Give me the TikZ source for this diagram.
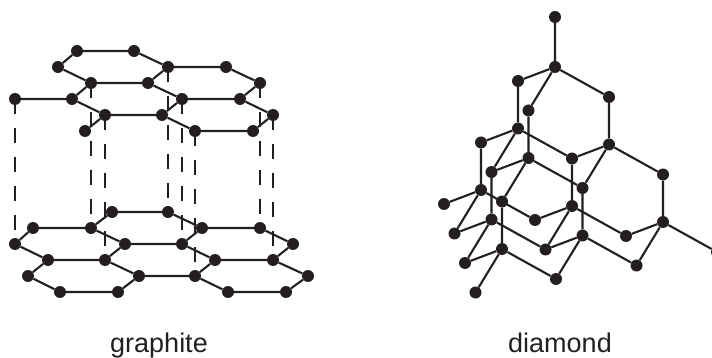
\documentclass[tikz,border=0pt]{standalone}
\usepackage{fontspec}
\setmainfont{Liberation Sans}
\usetikzlibrary{backgrounds}
\definecolor{ink}{RGB}{35,31,32}

\begin{document}
\begin{tikzpicture}[x=1pt, y=-1pt, line join=round,
  atom/.style={circle, fill=ink, inner sep=0pt, minimum size=12pt},
  bond/.style={draw=ink, line width=2.1pt},
  interlayer/.style={draw=ink, line width=1.9pt, dash pattern=on 15pt off 14pt},
  caption/.style={text=ink, font=\fontsize{27}{30}\selectfont, anchor=base}]
\useasboundingbox (0,0) rectangle (712,358);
% graphite, upper sheet
\node[atom] (U1)  at (77,51) {};
\node[atom] (U2)  at (134,51) {};
\node[atom] (U3)  at (58,67) {};
\node[atom] (U4)  at (168,67) {};
\node[atom] (U5)  at (226,67) {};
\node[atom] (U6)  at (91,83) {};
\node[atom] (U7)  at (148,83) {};
\node[atom] (U8)  at (260,83) {};
\node[atom] (U9)  at (15,99) {};
\node[atom] (U10) at (72,99) {};
\node[atom] (U11) at (182,99) {};
\node[atom] (U12) at (240,99) {};
\node[atom] (U13) at (105,115) {};
\node[atom] (U14) at (162,115) {};
\node[atom] (U15) at (273,115) {};
\node[atom] (U16) at (85,131) {};
\node[atom] (U17) at (195,131) {};
\node[atom] (U18) at (253,131) {};
% graphite, lower sheet
\node[atom] (L1)  at (112,212) {};
\node[atom] (L2)  at (168,212) {};
\node[atom] (L3)  at (33,228) {};
\node[atom] (L4)  at (91,228) {};
\node[atom] (L5)  at (202,228) {};
\node[atom] (L6)  at (260,228) {};
\node[atom] (L7)  at (15,244) {};
\node[atom] (L8)  at (125,244) {};
\node[atom] (L9)  at (182,244) {};
\node[atom] (L10) at (293,244) {};
\node[atom] (L11) at (48,260) {};
\node[atom] (L12) at (105,260) {};
\node[atom] (L13) at (215,260) {};
\node[atom] (L14) at (273,260) {};
\node[atom] (L15) at (28,276) {};
\node[atom] (L16) at (139,276) {};
\node[atom] (L17) at (195,276) {};
\node[atom] (L18) at (308,276) {};
\node[atom] (L19) at (60,292) {};
\node[atom] (L20) at (118,292) {};
\node[atom] (L21) at (228,292) {};
\node[atom] (L22) at (286,292) {};
% diamond
\node[atom] (C1)  at (555,17) {};
\node[atom] (C2)  at (555,67) {};
\node[atom] (C3)  at (518,81) {};
\node[atom] (C4)  at (609,97) {};
\node[atom] (C5)  at (528.5,110.5) {};
\node[atom] (C6)  at (518,128.5) {};
\node[atom] (C7)  at (481,142.5) {};
\node[atom] (C8)  at (609,144.5) {};
\node[atom] (C9)  at (528.5,158) {};
\node[atom] (C10) at (572,158.5) {};
\node[atom] (C11) at (491.5,172) {};
\node[atom] (C12) at (481,190) {};
\node[atom] (C13) at (444,204) {};
\node[atom] (C14) at (502,201.5) {};
\node[atom] (C15) at (582.5,188) {};
\node[atom] (C16) at (663,174.5) {};
\node[atom] (C17) at (572,206) {};
\node[atom] (C18) at (535,220) {};
\node[atom] (C19) at (491.5,219.5) {};
\node[atom] (C20) at (663,222) {};
\node[atom] (C21) at (454.5,233.5) {};
\node[atom] (C22) at (582.5,235.5) {};
\node[atom] (C23) at (626,236) {};
\node[atom] (C24) at (502,249) {};
\node[atom] (C25) at (545.5,249.5) {};
\node[atom] (C26) at (465,263) {};
\node[atom] (C27) at (636.5,265.5) {};
\node[atom] (C28) at (717,252) {};
\node[atom] (C29) at (556,279) {};
\node[atom] (C30) at (475.5,292.5) {};
\begin{scope}[on background layer]
\draw[interlayer] (U9.center)--(L7.center) (U6.center)--(L4.center) (U13.center)--(L12.center)
  (U4.center)--(L2.center) (U11.center)--(L9.center) (U17.center)--(L17.center)
  (U8.center)--(L6.center) (U15.center)--(L14.center);
\draw[bond] (U1)--(U2)--(U4)--(U7)--(U6)--(U3)--(U1);
\draw[bond] (U4)--(U5)--(U8)--(U12)--(U11)--(U7);
\draw[bond] (U11)--(U14)--(U13)--(U10)--(U6);
\draw[bond] (U12)--(U15)--(U18)--(U17)--(U14);
\draw[bond] (U9)--(U10) (U13)--(U16);
\draw[bond] (L3)--(L4)--(L8)--(L12)--(L11)--(L7)--(L3);
\draw[bond] (L4)--(L1)--(L2)--(L5)--(L9)--(L8);
\draw[bond] (L5)--(L6)--(L10)--(L14)--(L13)--(L9);
\draw[bond] (L13)--(L17)--(L16)--(L12);
\draw[bond] (L11)--(L15)--(L19)--(L20)--(L16);
\draw[bond] (L14)--(L18)--(L22)--(L21)--(L17);
\draw[bond] (C1)--(C2)--(C3)--(C6)--(C7)--(C12)--(C13);
\draw[bond] (C2)--(C4)--(C8)--(C16)--(C20)--(C28);
\draw[bond] (C2)--(C5)--(C9)--(C14)--(C24)--(C30);
\draw[bond] (C6)--(C10)--(C8)--(C15)--(C22)--(C29)--(C24)--(C26)--(C19)--(C21)--(C12);
\draw[bond] (C6)--(C11)--(C9)--(C15) (C11)--(C19)--(C25)--(C17)--(C10);
\draw[bond] (C12)--(C18)--(C17)--(C23)--(C20)--(C27)--(C22)--(C25);
\end{scope}
\node[caption] (graphite) at (159,352) {graphite};
\node[caption] (diamond) at (560,352) {diamond};
\end{tikzpicture}
\end{document}
